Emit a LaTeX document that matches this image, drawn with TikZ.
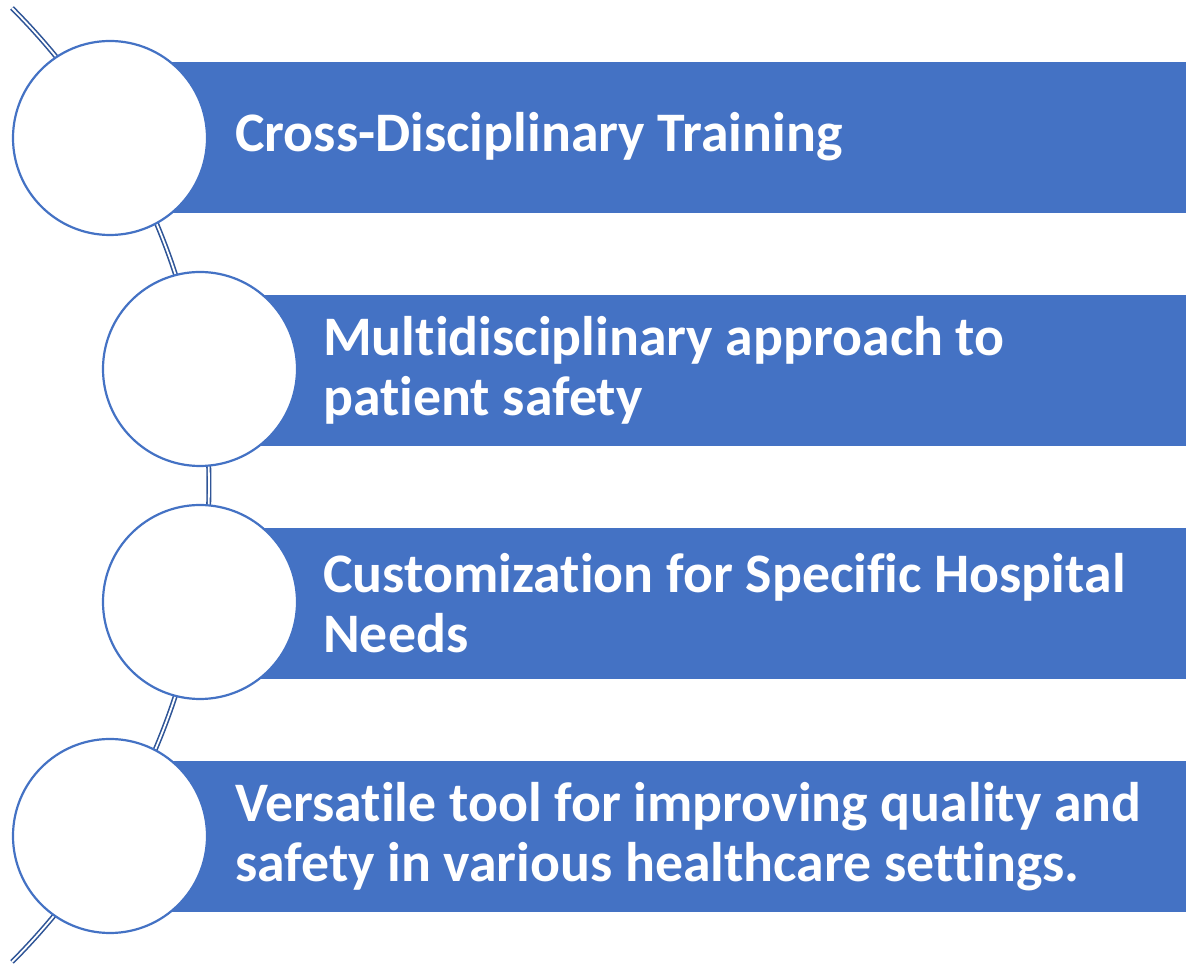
\documentclass[tikz,border=0pt]{standalone}
\usepackage{fontspec}
\setmainfont[Ligatures={NoCommon,NoRequired,NoContextual}]{Carlito}
\definecolor{barblue}{HTML}{4472C4}
\definecolor{arcblue}{HTML}{2F5597}
\begin{document}
\begin{tikzpicture}[x=1pt,y=1pt,
  bar/.style={fill=barblue,draw=none},
  disc/.style={circle,draw=barblue,fill=white,line width=2.2pt,minimum size=194pt,inner sep=0pt},
  lbl/.style={anchor=west,align=left,inner sep=0pt,text=white,font=\fontsize{55.8}{60}\selectfont\bfseries}
]
\useasboundingbox (0,0) rectangle (1186,969);
% arc
\draw[arcblue,line width=1.6pt,double=white,double distance=1.8pt]
  (12,961) arc[start angle=44.88,end angle=-44.88,radius=676pt];
% bars
\fill[bar] (160,756) rectangle (1186,907);
\fill[bar] (250,523) rectangle (1186,674);
\fill[bar] (250,290) rectangle (1186,441);
\fill[bar] (160,57) rectangle (1186,208);
% circles
\node[disc] (c1) at (110,831) {};
\node[disc] (c2) at (200,600) {};
\node[disc] (c3) at (200,367) {};
\node[disc] (c4) at (110,133) {};
% labels
\node[lbl] (t1) at (235,832) {Cross-Disciplinary Training};
\node[lbl] (t2) at (323,598.5) {Multidisciplinary approach to\\patient safety};
\node[lbl] (t3) at (323,365.5) {Customization for Specific Hospital\\Needs};
\node[lbl] (t4) at (235,132.5) {Versatile tool for improving quality and\\safety in various healthcare settings.};
\end{tikzpicture}
\end{document}
